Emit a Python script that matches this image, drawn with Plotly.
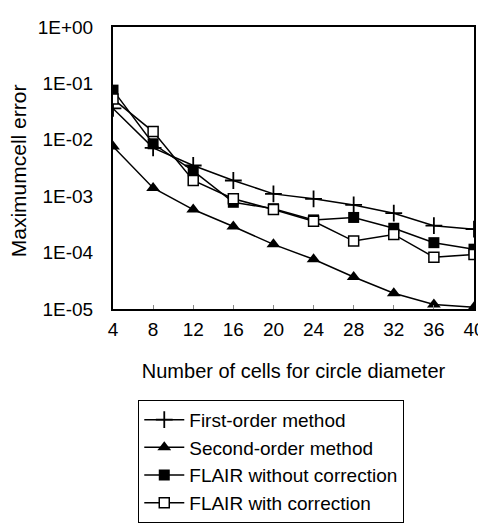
import plotly.graph_objects as go

cells = [4, 8, 12, 16, 20, 24, 28, 32, 36, 40]
first_order = [0.036, 0.0072, 0.0035, 0.0019, 0.0011, 0.0009, 0.0007, 0.0005, 0.0003, 0.00026]
second_order = [0.0076, 0.0014, 0.00058, 0.00029, 0.00014, 0.000076, 0.000037, 0.000019, 0.000012, 0.0000107]
flair_without = [0.076, 0.0085, 0.0028, 0.00078, 0.0006, 0.00038, 0.00042, 0.00027, 0.00015, 0.000115]
flair_with = [0.053, 0.014, 0.0019, 0.0009, 0.00058, 0.00036, 0.00016, 0.00021, 0.000083, 0.000093]

y_tickvals = [1e-5, 1e-4, 1e-3, 1e-2, 1e-1, 1e0]
y_ticktext = ["1E-05", "1E-04", "1E-03", "1E-02", "1E-01", "1E+00"]
x_tickvals = cells

FONT = "Liberation Sans, Arial, sans-serif"

fig = go.Figure()
fig.add_trace(go.Scatter(
    x=cells, y=first_order, name="First-order method", mode="lines+markers",
    line=dict(color="black", width=1.5),
    marker=dict(symbol="cross-thin-open", size=12, line=dict(color="black", width=1.8)),
))
fig.add_trace(go.Scatter(
    x=cells, y=second_order, name="Second-order method", mode="lines+markers",
    line=dict(color="black", width=1.5),
    marker=dict(symbol="triangle-up", size=12, color="black"),
))
fig.add_trace(go.Scatter(
    x=cells, y=flair_without, name="FLAIR without correction", mode="lines+markers",
    line=dict(color="black", width=1.5),
    marker=dict(symbol="square", size=11, color="black"),
))
fig.add_trace(go.Scatter(
    x=cells, y=flair_with, name="FLAIR with correction", mode="lines+markers",
    line=dict(color="black", width=1.5),
    marker=dict(symbol="square", size=10, color="white", line=dict(color="black", width=1.5)),
))

fig.update_layout(
    width=486, height=524,
    margin=dict(l=105, r=9, t=13, b=216),
    paper_bgcolor="white", plot_bgcolor="white",
    font=dict(family=FONT, size=17, color="black"),
    showlegend=True,
    legend=dict(
        x=0.07, y=-0.322, xanchor="left", yanchor="top",
        bordercolor="black", borderwidth=1, bgcolor="white",
        font=dict(family=FONT, size=19, color="black"),
        tracegroupgap=0, itemwidth=40,
    ),
)
fig.add_annotation(
    text="Maximumcell error", textangle=-90, showarrow=False,
    xref="paper", yref="paper", x=-0.262, y=0.49,
    xanchor="center", yanchor="middle",
    font=dict(family=FONT, size=21, color="black"),
)
fig.update_xaxes(
    range=[4, 40], tickvals=x_tickvals, ticks="inside", ticklen=4, tickcolor="#888",
    showline=True, linecolor="black", linewidth=2, mirror=True,
    showgrid=False, zeroline=False, ticklabelstandoff=2,
    tickfont=dict(family=FONT, size=19, color="black"),
    title=dict(text="Number of cells for circle diameter", standoff=25),
)
fig.update_yaxes(
    type="log", range=[-5, 0], tickvals=y_tickvals, ticktext=y_ticktext, ticks="",
    showline=True, linecolor="black", linewidth=2, mirror=True,
    showgrid=False, zeroline=False, ticklabelstandoff=14,
    tickfont=dict(family=FONT, size=19, color="black"),
)

fig.write_html("out.html")
